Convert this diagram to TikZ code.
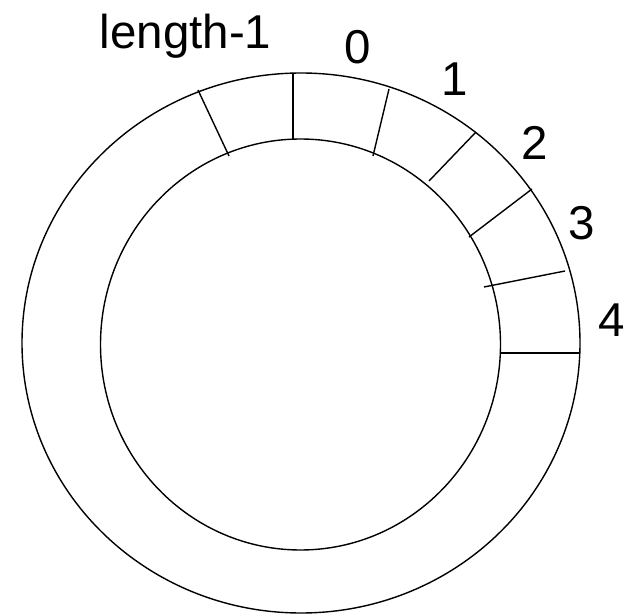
\documentclass[tikz,border=0pt]{standalone}
\usepackage{fontspec}
\setmainfont{Liberation Sans}
\begin{document}
\begin{tikzpicture}[x=1pt,y=-1pt,
  ring/.style={line width=1.4pt},
  spoke/.style={line width=1.4pt},
  lbl/.style={font=\fontsize{47.5}{57}\selectfont, inner sep=0pt, anchor=base}]
\useasboundingbox (0,0) rectangle (630,615);
% rings
\draw[ring] (301,343) ellipse [x radius=279, y radius=270];
\draw[ring] (300.5,344.5) ellipse [x radius=200, y radius=205.5];
% spoke end points (outer / inner)
\coordinate (oL) at (198,90);  \coordinate (iL) at (229,156);
\coordinate (o0) at (293,73);  \coordinate (i0) at (293,139);
\coordinate (o1) at (389,89);  \coordinate (i1) at (373,156);
\coordinate (o2) at (476,132); \coordinate (i2) at (429,181);
\coordinate (o3) at (532,189); \coordinate (i3) at (469,237);
\coordinate (o4) at (565,271); \coordinate (i4) at (484,287);
\coordinate (o5) at (580,353); \coordinate (i5) at (500,353);
\foreach \k in {L,0,1,2,3,4,5} \draw[spoke] (o\k) -- (i\k);
% labels
\node[lbl] (tlen) at (185.5,48.3) {length-1};
\node[lbl] (t0) at (357.5,64) {0};
\node[lbl] (t1) at (454.3,96) {1};
\node[lbl] (t2) at (534.5,160) {2};
\node[lbl] (t3) at (582,240) {3};
\node[lbl] (t4) at (612,336.5) {4};
\end{tikzpicture}
\end{document}
